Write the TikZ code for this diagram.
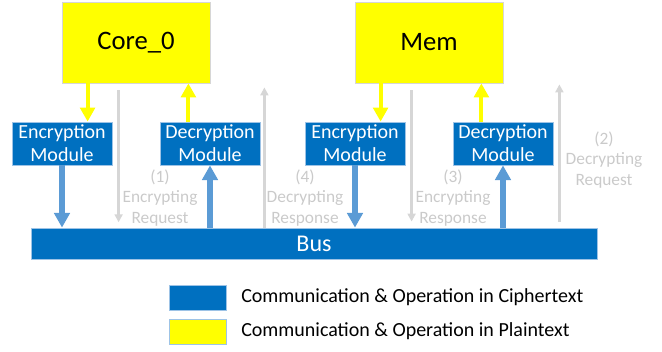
\documentclass[tikz,border=0pt]{standalone}
\usepackage{fontspec}
\setmainfont{Carlito}
\usetikzlibrary{arrows.meta, calc}
\definecolor{cipherblue}{HTML}{0070C0}
\definecolor{edgeblue}{HTML}{9DC3E6}
\definecolor{arrowblue}{HTML}{5B9BD5}
\definecolor{plainyellow}{HTML}{FFFF00}
\definecolor{lightline}{HTML}{D6D6D6}
\definecolor{lighttext}{HTML}{CACACA}
\tikzstyle{plainbox} = [rectangle, minimum width=111pt, minimum height=60.75pt, text centered, draw=lightline, line width=0.6pt, fill=plainyellow, font=\fontsize{20}{24}\selectfont]
\tikzstyle{module} = [rectangle, minimum width=75pt, minimum height=32.25pt, text centered, align=center, inner sep=0pt, draw=edgeblue, line width=0.6pt, fill=cipherblue, text=white, font=\fontsize{15}{17.25}\selectfont]
\tikzstyle{busbar} = [rectangle, minimum width=424.5pt, minimum height=23.25pt, text centered, draw=edgeblue, line width=0.6pt, fill=cipherblue, text=white, font=\fontsize{18}{21}\selectfont]
\tikzstyle{legendbox} = [rectangle, minimum width=42.75pt, minimum height=18.75pt, draw=edgeblue, line width=0.6pt]
\tikzstyle{legendtext} = [anchor=west, inner sep=0pt, font=\fontsize{15}{18}\selectfont]
\tikzstyle{steplabel} = [align=center, text=lighttext, inner sep=0pt, font=\fontsize{13}{15.4}\selectfont]
\tikzstyle{yarrow} = [draw=plainyellow, line width=3pt, -{Triangle[width=11pt,length=10.5pt]}]
\tikzstyle{barrow} = [draw=arrowblue, line width=4.5pt, -{Triangle[width=11.5pt,length=11pt]}]
\tikzstyle{garrow} = [draw=lightline, line width=2.8pt, -{Triangle[width=6pt,length=6pt]}]

\begin{document}
\begin{tikzpicture}[x=0.75pt, y=-0.75pt]
        \useasboundingbox (0,0) rectangle (662,352);
        \node (core) [plainbox] at (136,42.5) {Core\_0};
        \node (mem) [plainbox] at (429,42.5) {Mem};
        \node (enc1) [module] at (62,143.5) {Encryption\\Module};
        \node (dec1) [module] at (210,143.5) {Decryption\\Module};
        \node (enc2) [module] at (355,143.5) {Encryption\\Module};
        \node (dec2) [module] at (503,143.5) {Decryption\\Module};
        \node (bus) [busbar] at (314,243.5) {Bus};

        % Step labels
        \node (req1) [steplabel] at (160,198) {(1)\\Encrypting\\Request};
        \node (resp4) [steplabel] at (305,198) {(4)\\Decrypting\\Response};
        \node (resp3) [steplabel] at (453,198) {(3)\\Encrypting\\Response};
        \node (req2) [steplabel] at (604,160) {(2)\\Decrypting\\Request};

        % Plaintext arrows
        \draw [yarrow] ([xshift=19.5pt]core.south west) -- ([xshift=19.5pt]core.south west |- enc1.north);
        \draw [yarrow] ([xshift=-16.5pt]core.south east |- dec1.north) -- ([xshift=-16.5pt]core.south east);
        \draw [yarrow] ([xshift=19.5pt]mem.south west) -- ([xshift=19.5pt]mem.south west |- enc2.north);
        \draw [yarrow] ([xshift=-16.5pt]mem.south east |- dec2.north) -- ([xshift=-16.5pt]mem.south east);

        % Ciphertext arrows
        \draw [barrow] (enc1.south) -- (enc1.south |- bus.north);
        \draw [barrow] (dec1.south |- bus.north) -- (dec1.south);
        \draw [barrow] (enc2.south) -- (enc2.south |- bus.north);
        \draw [barrow] (dec2.south |- bus.north) -- (dec2.south);

        % Request / response flow
        \draw [garrow] ($(core.south west)+(42.75pt,-5.25pt)$) -- ($(core.south west |- bus.north)+(42.75pt,4pt)$);
        \draw [garrow] ($(core.south east |- bus.north)+(40.5pt,0)$) -- ($(core.south east)+(40.5pt,-3pt)$);
        \draw [garrow] ($(mem.south west)+(42.75pt,-5.25pt)$) -- ($(mem.south west |- bus.north)+(42.75pt,4.5pt)$);
        \draw [garrow] ($(mem.south east |- bus.north)+(42pt,4.5pt)$) -- ($(mem.south east)+(42pt,-0.75pt)$);

        % Legend
        \node (ciphkey) [legendbox, fill=cipherblue] at (197.5,297.5) {};
        \node (plainkey) [legendbox, fill=plainyellow] at (197.5,331.5) {};
        \node (ciphtext) [legendtext] at (241,297.5) {Communication \& Operation in Ciphertext};
        \node (plaintext) [legendtext] at (241,331.5) {Communication \& Operation in Plaintext};
\end{tikzpicture}
\end{document}
